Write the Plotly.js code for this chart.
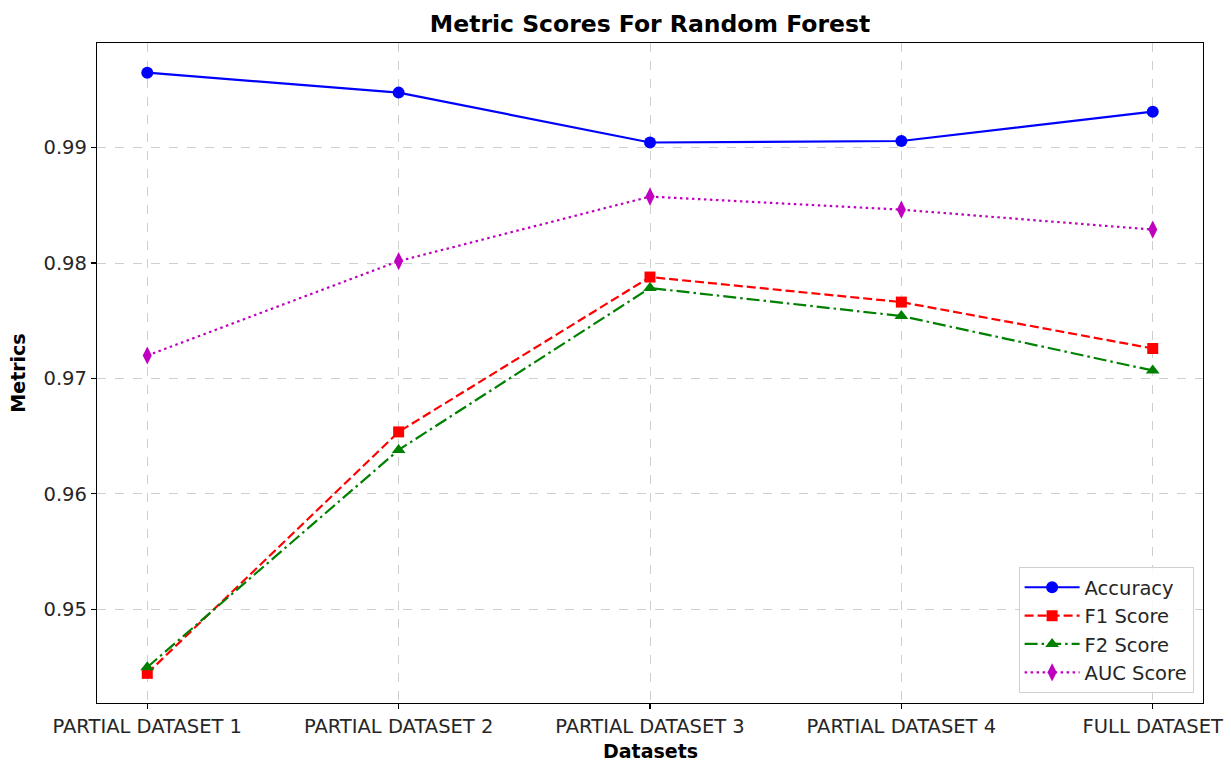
<!DOCTYPE html>
<html>
<head>
<meta charset="utf-8">
<script src="https://cdn.plot.ly/plotly-3.0.1.min.js"></script>
<style>html,body{margin:0;padding:0;background:#fff;}#chart{width:1231px;height:762px;}</style>
</head>
<body>
<div id="chart"></div>
<script>
const categories = ["PARTIAL DATASET 1", "PARTIAL DATASET 2", "PARTIAL DATASET 3", "PARTIAL DATASET 4", "FULL DATASET"];
const accuracy = [0.9965, 0.99477, 0.99045, 0.99058, 0.99312];
const f1Score  = [0.94445, 0.96537, 0.97879, 0.97662, 0.9726];
const f2Score  = [0.94498, 0.96381, 0.97784, 0.97541, 0.97069];
const aucScore = [0.97199, 0.98017, 0.98576, 0.98463, 0.9829];
const yTicks = [0.95, 0.96, 0.97, 0.98, 0.99];
const yTickLabels = ["0.95", "0.96", "0.97", "0.98", "0.99"];

const xIdx = categories.map((c, i) => i);
const font = "'DejaVu Sans', sans-serif";

const traces = [
  {x: xIdx, y: accuracy, name: "Accuracy", mode: "lines+markers",
   line: {color: "#0000ff", width: 2.2}, marker: {symbol: "circle", size: 12, color: "#0000ff"}},
  {x: xIdx, y: f1Score, name: "F1 Score", mode: "lines+markers",
   line: {color: "#ff0000", width: 2.2, dash: "9px,4px"}, marker: {symbol: "square", size: 11, color: "#ff0000"}},
  {x: xIdx, y: f2Score, name: "F2 Score", mode: "lines+markers",
   line: {color: "#008000", width: 2.2, dash: "13px,4px,2.5px,4px"}, marker: {symbol: "triangle-up", size: 12, color: "#008000"}},
  {x: xIdx, y: aucScore, name: "AUC Score", mode: "lines+markers",
   line: {color: "#bf00bf", width: 2.2, dash: "2.5px,3.5px"}, marker: {symbol: "diamond-tall", size: 13, color: "#bf00bf"}}
];

const layout = {
  width: 1231, height: 762,
  margin: {l: 97, r: 28, t: 43, b: 59},
  paper_bgcolor: "#fff", plot_bgcolor: "#fff",
  font: {family: font, size: 19, color: "#262626"},
  title: {text: "<b>Metric Scores For Random Forest</b>", font: {family: font, size: 23.5, color: "#000"},
          x: 0.5, xref: "paper", y: 1, yref: "paper", yanchor: "bottom", pad: {b: 11}},
  xaxis: {
    range: [-0.2, 4.2], tickmode: "array", tickvals: xIdx, ticktext: categories,
    showline: true, linecolor: "#000", linewidth: 1.2, mirror: true,
    ticks: "outside", ticklen: 5, tickcolor: "#000", tickwidth: 1.2,
    showgrid: true, gridcolor: "#cfcfcf", griddash: "dash", gridwidth: 1,
    zeroline: false, tickfont: {size: 19.5, color: "#262626"}
  },
  yaxis: {
    range: [0.94188, 0.99907], tickmode: "array", tickvals: yTicks, ticktext: yTickLabels,
    showline: true, linecolor: "#000", linewidth: 1.2, mirror: true,
    ticks: "outside", ticklen: 5, tickcolor: "#000", tickwidth: 1.2,
    showgrid: true, gridcolor: "#cfcfcf", griddash: "dash", gridwidth: 1,
    zeroline: false, tickfont: {size: 19.5, color: "#262626"},
    title: {text: "<b>Metrics</b>", font: {size: 19, color: "#000"}, standoff: 12}
  },
  annotations: [{
    text: "<b>Datasets</b>", xref: "paper", yref: "paper", x: 0.5, y: 0,
    xanchor: "center", yanchor: "top", yshift: -35, showarrow: false,
    font: {size: 19, color: "#000"}
  }],
  showlegend: true,
  legend: {
    x: 0.9915, xanchor: "right", y: 0.015, yanchor: "bottom",
    bgcolor: "rgba(255,255,255,0.85)", bordercolor: "#d0d0d0", borderwidth: 1,
    font: {size: 19.5, color: "#262626"}, tracegroupgap: 0, itemwidth: 55
  }
};

Plotly.newPlot("chart", traces, layout, {displayModeBar: false, staticPlot: true});
</script>
</body>
</html>
